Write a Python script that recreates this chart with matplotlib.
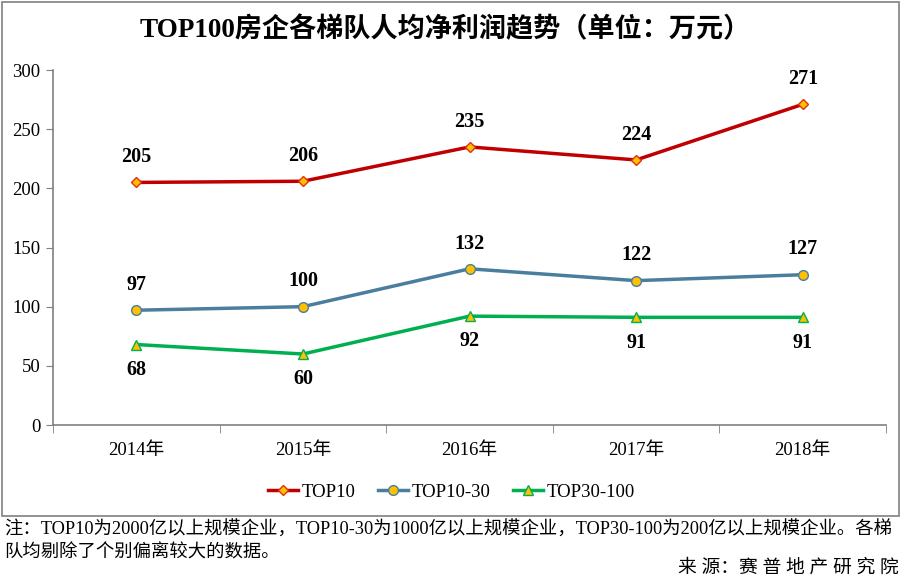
import matplotlib.pyplot as plt
from matplotlib.patches import Rectangle

plt.rcParams['font.family'] = ['Liberation Serif', 'Noto Sans CJK SC']

years = ['2014年', '2015年', '2016年', '2017年', '2018年']
top10 = [205, 206, 235, 224, 271]
top10_30 = [97, 100, 132, 122, 127]
top30_100 = [68, 60, 92, 91, 91]


def main():
    fig = plt.figure(figsize=(9.03, 5.81), dpi=100)

    # outer frame around chart area
    fig.patches.append(Rectangle((0.0022, 0.112), 0.9934, 0.8846, transform=fig.transFigure,
                                 fill=False, edgecolor='#808080', linewidth=1.2))

    ax = fig.add_axes([0.0587, 0.2685, 0.9225, 0.611])
    x = list(range(len(years)))

    ax.plot(x, top10, color='#C00000', linewidth=2.5, marker='D', markersize=5,
            markerfacecolor='#FFC000', markeredgecolor='#E03010', label='TOP10')
    ax.plot(x, top10_30, color='#4A7E9E', linewidth=2.5, marker='o', markersize=7,
            markerfacecolor='#FFC000', markeredgecolor='#4A7E9E', label='TOP10-30')
    ax.plot(x, top30_100, color='#00B050', linewidth=2.5, marker='^', markersize=7,
            markerfacecolor='#FFC000', markeredgecolor='#00B050', label='TOP30-100')

    for i in x:
        ax.annotate(str(top10[i]), (i, top10[i]), xytext=(0, 11), textcoords='offset points',
                    ha='center', va='bottom', fontsize=14.5, fontweight='bold')
        ax.annotate(str(top10_30[i]), (i, top10_30[i]), xytext=(0, 11), textcoords='offset points',
                    ha='center', va='bottom', fontsize=14.5, fontweight='bold')
        ax.annotate(str(top30_100[i]), (i, top30_100[i]), xytext=(0, -11), textcoords='offset points',
                    ha='center', va='top', fontsize=14.5, fontweight='bold')

    ax.set_xlim(-0.5, len(years) - 0.5)
    ax.set_ylim(0, 300)
    ax.set_yticks(range(0, 301, 50))
    ax.set_xticks(x)
    ax.set_xticklabels(years, fontsize=13.5)
    ax.set_xticks([i - 0.5 for i in range(len(years) + 1)], minor=True)
    ax.tick_params(axis='x', which='major', length=0, pad=12)
    ax.tick_params(axis='x', which='minor', length=6, color='#808080')
    ax.tick_params(axis='y', length=5, color='#808080', labelsize=13.5, pad=4)

    for s in ['top', 'right']:
        ax.spines[s].set_visible(False)
    for s in ['left', 'bottom']:
        ax.spines[s].set_color('#808080')
        ax.spines[s].set_linewidth(1.2)

    fig.text(0.493, 0.948, 'TOP100房企各梯队人均净利润趋势（单位：万元）', ha='center', va='center',
             fontsize=19.5, fontweight='bold')

    fig.legend(loc='center', bbox_to_anchor=(0.5, 0.153), ncol=3, frameon=False, fontsize=13.5,
               handlelength=1.6, handletextpad=0.2, columnspacing=1.2)

    fig.text(0.005, 0.088, '注：TOP10为2000亿以上规模企业，TOP10-30为1000亿以上规模企业，TOP30-100为200亿以上规模企业。各梯',
             ha='left', va='center', fontsize=13.2)
    fig.text(0.005, 0.049, '队均剔除了个别偏离较大的数据。', ha='left', va='center', fontsize=13.2)
    fig.text(0.995, 0.022, '来 源：赛 普 地 产 研 究 院', ha='right', va='center', fontsize=13.5)

    fig.savefig('out.png', dpi=100)


if __name__ == '__main__':
    main()
